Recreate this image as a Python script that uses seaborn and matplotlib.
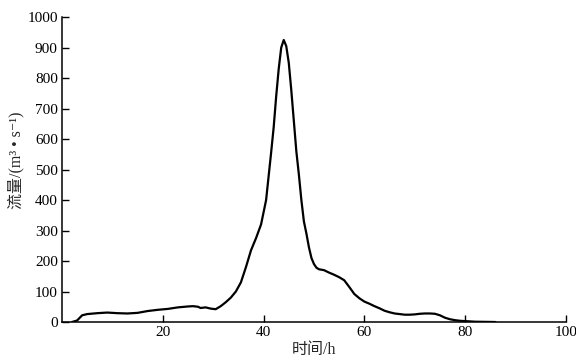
import matplotlib
matplotlib.use('Agg')
import matplotlib.pyplot as plt
import seaborn as sns
import pandas as pd

hours = [2, 3, 4, 5, 7, 9, 11, 13, 15, 17, 19, 21, 23, 25, 26, 27, 27.5,
         28.5, 29.5, 30.5, 31.5, 32.5, 33.5, 34.5, 35.5, 36.5, 37.5, 38.5,
         39.5, 40.5, 41, 41.5, 42, 42.5, 43, 43.5, 44, 44.5, 45, 45.5, 46,
         46.5, 47, 47.5, 48, 48.5, 49, 49.5, 50, 50.5, 51, 52, 53, 54, 55,
         56, 57, 58, 59, 60, 61, 62, 63, 64, 65, 66, 67, 68, 69, 70, 71, 72,
         73, 74, 75, 76, 77, 78, 79, 80, 82, 84, 86]
flow = [0, 5, 22, 26, 29, 31, 29, 28, 30, 36, 40, 43, 48, 51, 52, 50, 46,
        48, 44, 42, 52, 65, 80, 100, 130, 180, 235, 275,
        320, 400, 478, 556, 638, 740, 830, 900, 925, 905, 850, 760, 660,
        560, 484, 400, 330, 290, 245, 210, 190, 178, 173, 170, 162, 155, 147,
        137, 115, 92, 78, 67, 60, 52, 45, 37, 32, 28, 26, 24, 24, 25, 27, 28,
        28, 27, 22, 14, 9, 6, 4, 3, 1, 0.5, 0]

x_ticks = [20, 40, 60, 80, 100]
y_ticks = [0, 100, 200, 300, 400, 500, 600, 700, 800, 900, 1000]

df = pd.DataFrame({"hour": hours, "flow": flow})

# ── Styling ────────────────────────────────────────────────
sns.set_theme(style="ticks")
plt.rcParams['font.family'] = ['Liberation Serif', 'Noto Sans CJK SC', 'DejaVu Sans']

fig = plt.figure(figsize=(5.76, 3.57), dpi=100)
ax = fig.add_axes([0.1076, 0.098, 0.875, 0.854])

sns.lineplot(data=df, x="hour", y="flow", ax=ax, color="black", linewidth=1.6)

ax.set_xlim(0, 100)
ax.set_ylim(0, 1000)
ax.set_xticks(x_ticks)
ax.set_yticks(y_ticks)
ax.tick_params(axis="both", direction="in", length=5, width=1, labelsize=11,
               colors="black", pad=3)
sns.despine(ax=ax)
for s in ["left", "bottom"]:
    ax.spines[s].set_linewidth(1.1)
    ax.spines[s].set_color("black")

ax.set_xlabel("时间/h", fontsize=11.5, labelpad=2)
ax.set_ylabel("流量/(m³ • s⁻¹)", fontsize=11.5, labelpad=0)
ax.yaxis.set_label_coords(-0.075, 0.53)

fig.savefig("out.png", dpi=100)
